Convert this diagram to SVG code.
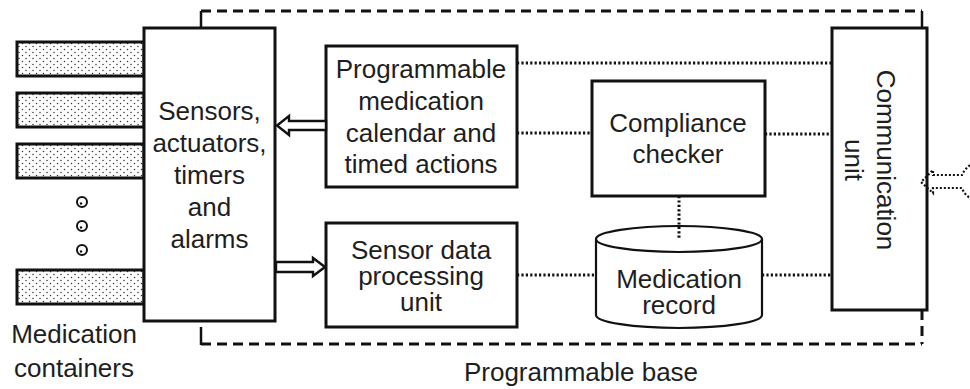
<svg xmlns="http://www.w3.org/2000/svg" width="970" height="389" viewBox="0 0 970 389">
  <defs>
    <pattern id="stipple" width="7" height="6" patternUnits="userSpaceOnUse">
      <rect width="7" height="6" fill="#ffffff"/>
      <circle cx="1.5" cy="1.5" r="0.75" fill="#333333"/>
      <circle cx="5" cy="4.5" r="0.75" fill="#333333"/>
    </pattern>
    <style>
      .box { fill: #ffffff; stroke: #111111; stroke-width: 3; }
      .container { fill: url(#stipple); stroke: #111111; stroke-width: 3; }
      .lbl { font-family: "Liberation Sans", Arial, sans-serif; font-size: 26px; fill: #1e1e1e; text-anchor: middle; }
      .dotted { fill: none; stroke: #111111; stroke-width: 3; stroke-dasharray: 2.2 2.2; }
      .dashed { fill: none; stroke: #111111; stroke-width: 3; stroke-dasharray: 10 6; }
      .solid { fill: none; stroke: #111111; stroke-width: 2.5; }
      .hollow { fill: #ffffff; stroke: #111111; stroke-width: 2.4; stroke-linejoin: miter; }
      .hollow-dotted { fill: none; stroke: #111111; stroke-width: 2.2; stroke-dasharray: 2 2; }
    </style>
  </defs>

  <rect width="970" height="389" fill="#ffffff"/>

  <!-- Programmable base boundary -->
  <g id="programmable-base">
    <path class="dashed" d="M201,11 H922"/>
    <path class="dashed" d="M201,344 H922"/>
    <path class="solid" d="M201,11 V28"/>
    <path class="solid" d="M922,11 V28"/>
    <path class="solid" d="M201,327 V345"/>
    <path class="dashed" d="M922,310 V344"/>
    <text class="lbl" x="581" y="381">Programmable base</text>
  </g>

  <!-- Medication containers -->
  <g id="medication-containers">
    <rect class="container" x="17" y="42" width="127" height="34"/>
    <rect class="container" x="17" y="93" width="127" height="34"/>
    <rect class="container" x="17" y="144" width="127" height="34"/>
    <rect class="container" x="17" y="270" width="127" height="34"/>
    <g fill="none" stroke="#111111" stroke-width="2">
      <circle cx="82" cy="202" r="5"/>
      <circle cx="82" cy="226" r="5"/>
      <circle cx="82" cy="250" r="5"/>
    </g>
    <g fill="#111111">
      <circle cx="81" cy="203.5" r="1.2"/>
      <circle cx="81" cy="227.5" r="1.2"/>
      <circle cx="81" cy="251.5" r="1.2"/>
    </g>
    <text class="lbl" x="74" y="343">Medication</text>
    <text class="lbl" x="74" y="377">containers</text>
  </g>

  <!-- Sensors, actuators, timers and alarms -->
  <g id="sensors">
    <rect class="box" x="144" y="28" width="131" height="293"/>
    <text class="lbl" x="209.5" y="120">Sensors,</text>
    <text class="lbl" x="209.5" y="152">actuators,</text>
    <text class="lbl" x="209.5" y="184">timers</text>
    <text class="lbl" x="209.5" y="216">and</text>
    <text class="lbl" x="209.5" y="248">alarms</text>
  </g>

  <!-- Programmable medication calendar -->
  <g id="calendar">
    <rect class="box" x="326" y="46" width="191" height="141"/>
    <text class="lbl" x="421" y="78">Programmable</text>
    <text class="lbl" x="421" y="110">medication</text>
    <text class="lbl" x="421" y="142">calendar and</text>
    <text class="lbl" x="421" y="173">timed actions</text>
  </g>

  <!-- Sensor data processing unit -->
  <g id="sensor-data">
    <rect class="box" x="326" y="223" width="191" height="104"/>
    <text class="lbl" x="421" y="259">Sensor data</text>
    <text class="lbl" x="421" y="285">processing</text>
    <text class="lbl" x="421" y="311">unit</text>
  </g>

  <!-- Compliance checker -->
  <g id="compliance">
    <rect class="box" x="592" y="81" width="173" height="115"/>
    <text class="lbl" x="678" y="132">Compliance</text>
    <text class="lbl" x="678" y="163">checker</text>
  </g>

  <!-- Medication record (database) -->
  <g id="medication-record">
    <path fill="#ffffff" stroke="#111111" stroke-width="2.2" d="M596,239 V315 A83,13 0 0 0 762,315 V239"/>
    <ellipse cx="679" cy="239" rx="83" ry="13" fill="#ffffff" stroke="#111111" stroke-width="2.2"/>
    <text class="lbl" x="679" y="288">Medication</text>
    <text class="lbl" x="679" y="314">record</text>
  </g>

  <!-- Communication unit -->
  <g id="communication">
    <rect class="box" x="832" y="28" width="95" height="282"/>
    <g transform="translate(877,160) rotate(90)">
      <text class="lbl" x="0" y="0">Communication</text>
      <text class="lbl" x="0" y="32">unit</text>
    </g>
  </g>

  <!-- Connectors -->
  <g id="connectors">
    <!-- hollow block arrows -->
    <polygon class="hollow" points="326,121 289,121 289,116 277,125.5 289,135 289,130 326,130"/>
    <polygon class="hollow" points="276,262 313,262 313,258 325,267 313,276 313,272 276,272"/>
    <!-- dotted data links -->
    <path class="dotted" d="M517,63 H832"/>
    <path class="dotted" d="M517,133 H592"/>
    <path class="dotted" d="M765,134 H832"/>
    <path class="dotted" d="M517,275 H596"/>
    <path class="dotted" d="M762,275 H832"/>
    <path class="dotted" d="M679,196 V240"/>
    <!-- incoming external link -->
    <path class="hollow-dotted" d="M970,165 Q964,170 962,175 H933 V170 L921,182 L933,193 V188 H962 Q964,194 970,198"/>
  </g>
</svg>
